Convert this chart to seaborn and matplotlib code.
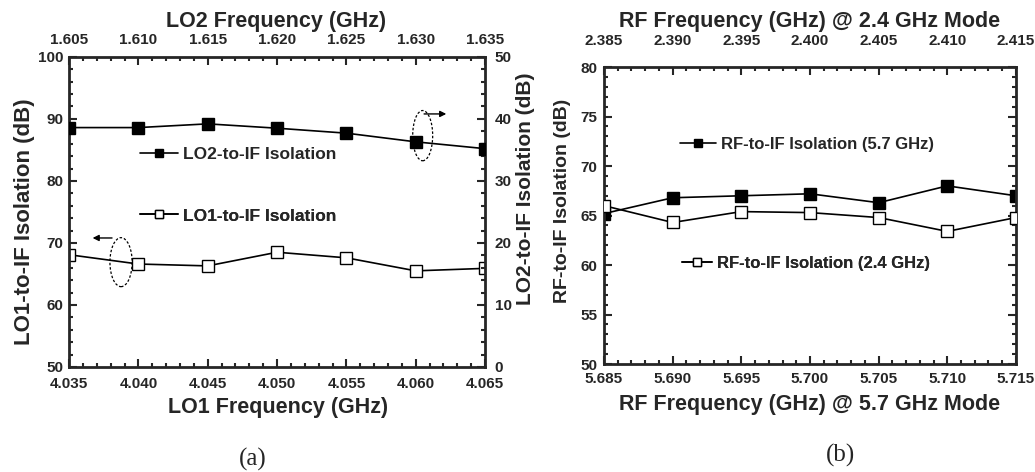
import matplotlib
matplotlib.use("Agg")
import matplotlib.pyplot as plt
import seaborn as sns
from matplotlib.lines import Line2D
from matplotlib.patches import Ellipse
from matplotlib.ticker import MultipleLocator, FormatStrFormatter

# panel (a): LO isolation
lo1_freq = [4.035, 4.040, 4.045, 4.050, 4.055, 4.060, 4.065]
lo1_iso = [68.1, 66.6, 66.3, 68.5, 67.6, 65.5, 65.9]
lo2_freq = [1.605, 1.610, 1.615, 1.620, 1.625, 1.630, 1.635]
lo2_iso = [38.6, 38.6, 39.2, 38.5, 37.7, 36.3, 35.2]

# panel (b): RF isolation
rf57_freq = [5.685, 5.690, 5.695, 5.700, 5.705, 5.710, 5.715]
rf57_iso = [65.2, 66.8, 67.0, 67.2, 66.3, 68.0, 67.0]
rf24_freq = [2.385, 2.390, 2.395, 2.400, 2.405, 2.410, 2.415]
rf24_iso = [66.0, 64.3, 65.4, 65.3, 64.8, 63.4, 64.8]

sns.set_style("ticks")
plt.rcParams["font.family"] = ["Liberation Sans", "DejaVu Sans"]
plt.rcParams["font.weight"] = "bold"
plt.rcParams["axes.labelweight"] = "bold"

TICK_FS = 11


def style_axis(ax, pad, **sides):
    ax.tick_params(which="both", direction="in", width=1.5, labelsize=TICK_FS,
                   pad=pad, **sides)
    ax.tick_params(which="major", length=6)
    ax.tick_params(which="minor", length=3)


def freq_ticks(axis, major, minor, fmt=None):
    axis.set_major_locator(MultipleLocator(major))
    axis.set_minor_locator(MultipleLocator(minor))
    if fmt:
        axis.set_major_formatter(FormatStrFormatter(fmt))


def put_label(axis, text, size, x, y):
    axis.set_label_text(text, fontsize=size)
    axis.set_label_coords(x, y)
    axis.label.set_ha("center")
    axis.label.set_va("center")


def draw(ax, x, y, filled):
    sns.lineplot(x=x, y=y, ax=ax, color="black", lw=1.2, marker="s",
                 markersize=8, markeredgecolor="black", markeredgewidth=1.0,
                 markerfacecolor="black" if filled else "white")


def entry(ax, label, filled, xy, hl=2.2, fs=12):
    h = Line2D([], [], color="black", lw=1.2, marker="s", markersize=6,
               markeredgecolor="black", markeredgewidth=1.0,
               markerfacecolor="black" if filled else "white")
    leg = ax.legend([h], [label], loc="center left", bbox_to_anchor=xy,
                    frameon=False, handlelength=hl, handletextpad=0.3,
                    borderpad=0, borderaxespad=0, fontsize=fs)
    ax.add_artist(leg)


fig = plt.figure(figsize=(10.35, 4.72), dpi=100)

# ---------------- panel (a) ----------------
pos_a = [0.0667, 0.2225, 0.402, 0.657]
ax1 = fig.add_axes(pos_a)
ax2 = fig.add_axes(pos_a, frameon=False)
ax2.patch.set_visible(False)

draw(ax1, lo1_freq, lo1_iso, filled=False)
draw(ax2, lo2_freq, lo2_iso, filled=True)

ax1.set_xlim(4.035, 4.065)
ax1.set_ylim(50, 100)
freq_ticks(ax1.xaxis, 0.005, 0.001, "%.3f")
freq_ticks(ax1.yaxis, 10, 2)
style_axis(ax1, 4, bottom=True, left=True, top=False, right=False)
ax1.tick_params(axis="x", pad=7)

ax2.set_xlim(1.605, 1.635)
ax2.set_ylim(0, 50)
ax2.xaxis.tick_top()
ax2.xaxis.set_label_position("top")
ax2.yaxis.tick_right()
ax2.yaxis.set_label_position("right")
freq_ticks(ax2.xaxis, 0.005, 0.001, "%.3f")
freq_ticks(ax2.yaxis, 10, 2)
style_axis(ax2, 7, bottom=False, left=False, top=True, right=True,
           labelbottom=False, labelleft=False, labeltop=True, labelright=True)

put_label(ax1.xaxis, "LO1 Frequency (GHz)", 15.5, 0.502, -0.131)
put_label(ax1.yaxis, "LO1-to-IF Isolation (dB)", 16, -0.106, 0.47)
put_label(ax2.xaxis, "LO2 Frequency (GHz)", 15.5, 0.497, 1.113)
put_label(ax2.yaxis, "LO2-to-IF Isolation (dB)", 15, 1.096, 0.575)

for s in ax1.spines.values():
    s.set_linewidth(2)
    s.set_visible(True)

entry(ax1, "LO2-to-IF Isolation", True, (0.17, 0.684), fs=12.5)
entry(ax1, "LO1-to-IF Isolation", False, (0.17, 0.487), fs=12.5)

# callouts
ax1.add_patch(Ellipse((4.0605, 87.3), 0.00144, 8.1, fill=False, ls=(0, (2, 1.5)),
                      lw=0.9, color="black"))
ax1.annotate("", xy=(4.0624, 90.8), xytext=(4.0604, 90.8),
             arrowprops=dict(arrowstyle="-|>", color="black", lw=1,
                             mutation_scale=9))
ax1.add_patch(Ellipse((4.03875, 66.9), 0.0016, 7.9, fill=False, ls=(0, (2, 1.5)),
                      lw=0.9, color="black"))
ax1.annotate("", xy=(4.0365, 70.8), xytext=(4.0383, 70.8),
             arrowprops=dict(arrowstyle="-|>", color="black", lw=1,
                             mutation_scale=9))

# ---------------- panel (b) ----------------
pos_b = [0.5836, 0.2288, 0.398, 0.629]
bx1 = fig.add_axes(pos_b)
bx2 = fig.add_axes(pos_b, frameon=False)
bx2.patch.set_visible(False)

draw(bx1, rf57_freq, rf57_iso, filled=True)
draw(bx2, rf24_freq, rf24_iso, filled=False)

bx1.set_xlim(5.685, 5.715)
bx1.set_ylim(50, 80)
freq_ticks(bx1.xaxis, 0.005, 0.001, "%.3f")
freq_ticks(bx1.yaxis, 5, 1)
style_axis(bx1, 5, bottom=True, left=True, top=False, right=True,
           labelright=False)
bx1.tick_params(axis="x", pad=6)

bx2.set_xlim(2.385, 2.415)
bx2.set_ylim(50, 80)
bx2.xaxis.tick_top()
bx2.xaxis.set_label_position("top")
freq_ticks(bx2.xaxis, 0.005, 0.001, "%.3f")
bx2.set_yticks([])
bx2.set_ylabel("")
style_axis(bx2, 14, bottom=False, left=False, top=True, right=False,
           labelbottom=False, labeltop=True)

put_label(bx1.xaxis, "RF Frequency (GHz) @ 5.7 GHz Mode", 15.5, 0.498, -0.138)
put_label(bx1.yaxis, "RF-to-IF Isolation (dB)", 14, -0.102, 0.549)
put_label(bx2.xaxis, "RF Frequency (GHz) @ 2.4 GHz Mode", 15.5, 0.5, 1.152)

for s in bx1.spines.values():
    s.set_linewidth(2)
    s.set_visible(True)

entry(bx1, "RF-to-IF Isolation (5.7 GHz)", True, (0.184, 0.741))
entry(bx1, "RF-to-IF Isolation (2.4 GHz)", False, (0.19, 0.34), hl=1.8)

# panel captions
fig.text(0.2444, 0.027, "(a)", ha="center", va="center", fontsize=18,
         family="Liberation Serif", weight="normal")
fig.text(0.8116, 0.035, "(b)", ha="center", va="center", fontsize=18,
         family="Liberation Serif", weight="normal")

fig.savefig("out.png", dpi=100)
